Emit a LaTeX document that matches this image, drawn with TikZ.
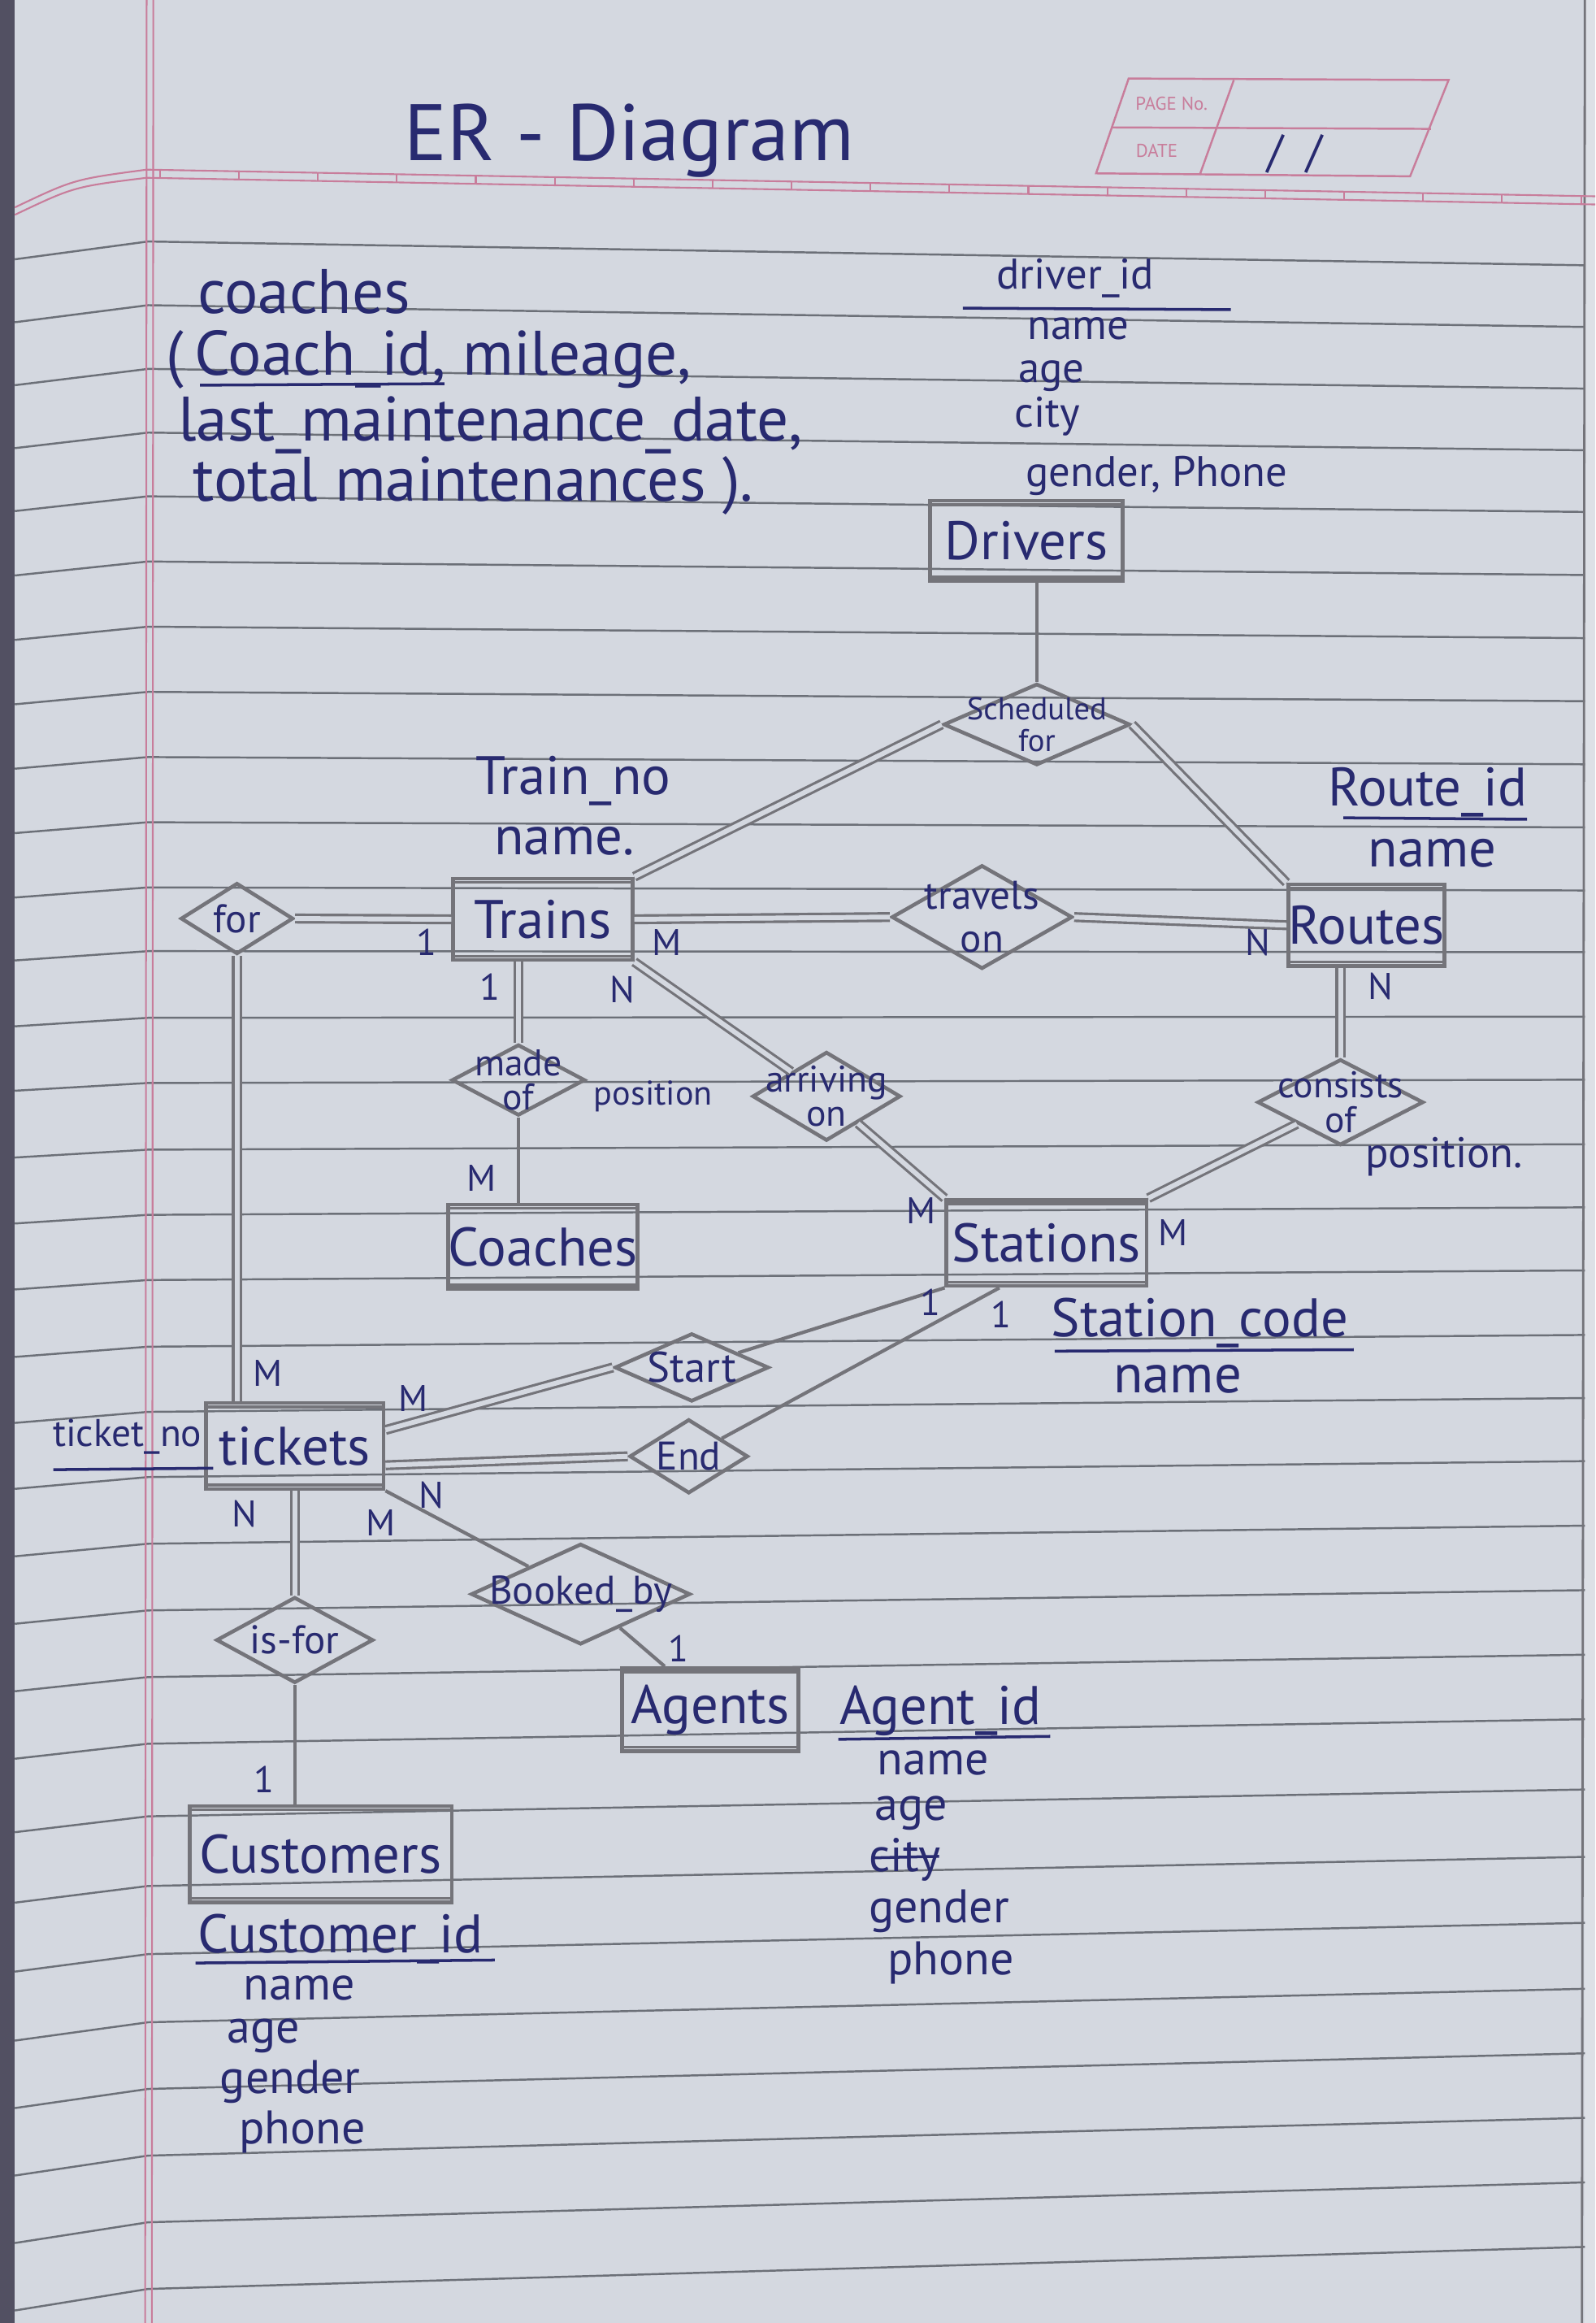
\documentclass[tikz,border=0pt]{standalone}
\usepackage{fontspec}
\setmainfont{PT Sans}
\usetikzlibrary{shapes.geometric}
\definecolor{paper}{RGB}{212,216,224}
\definecolor{pencil}{RGB}{116,116,122}
\definecolor{ink}{RGB}{40,42,112}
\definecolor{ruleline}{RGB}{108,112,120}
\definecolor{pinkline}{RGB}{200,125,155}
\definecolor{binding}{RGB}{82,80,98}
\def\U{0.018227cm}
\newcommand\entdbl[1]{\draw[pencil,line width=1pt] ([yshift=-2pt]#1.north west) -- ([yshift=-2pt]#1.north east) ([yshift=2pt]#1.south west) -- ([yshift=2pt]#1.south east);}
\begin{document}
\begin{tikzpicture}[x=0.018227cm,y=-0.018227cm,
  entity/.style={draw=pencil, line width=1.3pt, inner sep=0pt, text=ink, font=\fontsize{19}{21}\selectfont},
  rel/.style={diamond, draw=pencil, line width=1.3pt, inner sep=0pt},
  reltext/.style={text=ink, align=center, inner sep=0pt, font=\fontsize{13}{12}\selectfont},
  conn/.style={draw=pencil, line width=1.2pt},
  dconn/.style={draw=pencil, line width=0.9pt, double=paper, double distance=1.7pt},
  card/.style={text=ink, inner sep=0pt, font=\fontsize{13}{13}\selectfont},
  attr/.style={text=ink, inner sep=0pt, font=\fontsize{19}{20}\selectfont},
  lattr/.style={text=ink, inner sep=0pt, font=\fontsize{16.5}{17}\selectfont},
  sattr/.style={text=ink, inner sep=0pt, font=\fontsize{15}{16}\selectfont},
  cattr/.style={text=ink, inner sep=0pt, anchor=west, font=\fontsize{22}{24}\selectfont},
  uline/.style={draw=ink, line width=1pt},
  ruling/.style={draw=ruleline, line width=0.7pt}]
\useasboundingbox (0,0) rectangle (1077,1568);
\fill[paper] (0,0) rectangle (1077,1568);
\fill[paper!80!white] (1070,0) rectangle (1077,1568);
% ruled lines
\foreach \ya in {163,206,249,292,335,379,423,467,511,555,599,642,687,731,776,820,864,909,953,997,1042,1087,1132,1177,1226,1273,1319,1365,1410,1455,1500,1545} {
  \pgfmathsetmacro\yr{\ya+(15-(\ya-160)*0.02985)*1.0778}
  \pgfmathsetmacro\yl{\ya+5+0.012*abs(\ya-750)}
  \draw[ruling] (10,\yl) -- (100,\ya) -- (1070,\yr);
}
% binding and right edge
\fill[binding] (0,0) rectangle (10,1568);
\draw[pencil, line width=0.8pt] (1070,0) -- (1068,1568);
% pink margins
\draw[pinkline, line width=0.6pt] (99,0) -- (98,1568) (103.5,0) -- (102.5,1568);
\draw[pinkline, line width=0.6pt] (10,140) .. controls (50,121) .. (99,114.5) -- (1077,132.5);
\draw[pinkline, line width=0.6pt] (10,145) .. controls (50,126) .. (99,120) -- (1077,138);
\foreach \t in {0,...,18} {
  \pgfmathsetmacro\tx{108+53.3*\t}
  \pgfmathsetmacro\tya{114.5+(\tx-99)*0.0184}
  \pgfmathsetmacro\tyb{\tya+5.5}
  \draw[pinkline, line width=0.6pt] (\tx,\tya) -- (\tx,\tyb);
}
% page no box
\draw[pinkline, line width=0.7pt] (762,53) -- (978,54) -- (952,119) -- (740,117) -- cycle;
\draw[pinkline, line width=0.7pt] (751,86) -- (966,87) (833,54) -- (810,118);
\node[text=pinkline, inner sep=0pt, font=\fontsize{6.5}{7}\selectfont] (pageno) at (791,70) {PAGE No.};
\node[text=pinkline, inner sep=0pt, font=\fontsize{6.5}{7}\selectfont] (datet) at (781,102) {DATE};
\node[text=ink, inner sep=0pt, font=\fontsize{16}{16}\selectfont] (dslash) at (874,104) {/\hspace{8pt}/};
% title
\node[text=ink, inner sep=0pt, font=\fontsize{28}{30}\selectfont] (title) at (425,95) {ER - Diagram};
% coaches note
\node[cattr] (cnA) at (133,197) {coaches};
\node[cattr] (cnB) at (112,243) {(\,Coach\_id, mileage,};
\node[cattr] (cnC) at (120,287) {last\_maintenance\_date,};
\node[cattr] (cnD) at (130,328) {total maintenances ).};
\draw[uline] (135,260) -- (300,259);
% entities
\node[entity, minimum width=130*\U, minimum height=54*\U] (drivers) at (693,365) {Drivers};
\node[entity, minimum width=121*\U, minimum height=55*\U] (trains) at (366.5,620.5) {Trains};
\node[entity, minimum width=99*\U, minimum height=55*\U] (routes) at (922.5,624.5) {Routes};
\node[entity, minimum width=121*\U, minimum height=57*\U] (coaches) at (366.5,841.5) {Coaches};
\node[entity, minimum width=135*\U, minimum height=58*\U] (stations) at (706.5,839) {Stations};
\node[entity, minimum width=120*\U, minimum height=58*\U] (tickets) at (199,976) {tickets};
\node[entity, minimum width=119*\U, minimum height=56*\U] (agents) at (479.5,1154) {Agents};
\node[entity, minimum width=177*\U, minimum height=65*\U] (customers) at (216.5,1251.5) {Customers};
\entdbl{drivers}\entdbl{trains}\entdbl{routes}\entdbl{coaches}
\entdbl{stations}\entdbl{tickets}\entdbl{agents}\entdbl{customers}
% relationships
\node[rel, minimum width=126*\U, minimum height=55*\U] (sched) at (700,489) {};
\node[rel, minimum width=122*\U, minimum height=70*\U] (travels) at (663,619) {};
\node[rel, minimum width=76*\U, minimum height=48*\U] (forD) at (160,620) {};
\node[rel, minimum width=90*\U, minimum height=48*\U] (made) at (350,729) {};
\node[rel, minimum width=100*\U, minimum height=60*\U] (arriving) at (558,740) {};
\node[rel, minimum width=112*\U, minimum height=58*\U] (consists) at (905,744) {};
\node[rel, minimum width=104*\U, minimum height=46*\U] (start) at (467,923) {};
\node[rel, minimum width=80*\U, minimum height=50*\U] (endD) at (465,983) {};
\node[rel, minimum width=148*\U, minimum height=68*\U] (booked) at (392,1076) {};
\node[rel, minimum width=106*\U, minimum height=58*\U] (isfor) at (199,1107) {};
\node[reltext, font=\fontsize{11}{11}\selectfont] (schedT) at (sched) {Scheduled\\for};
\node[reltext, font=\fontsize{14}{15}\selectfont] (travelsT) at (travels) {travels\\on};
\node[reltext, font=\fontsize{14}{14}\selectfont] (forT) at (forD) {for};
\node[reltext] (madeT) at (made) {made\\of};
\node[reltext] (arrivingT) at (arriving) {arriving\\on};
\node[reltext] (consistsT) at (consists) {consists\\of};
\node[reltext, font=\fontsize{15}{15}\selectfont] (startT) at (start) {Start};
\node[reltext, font=\fontsize{14}{14}\selectfont] (endT) at (endD) {End};
\node[reltext, font=\fontsize{14}{14}\selectfont] (bookedT) at (booked) {Booked\_by};
\node[reltext, font=\fontsize{14}{14}\selectfont] (isforT) at (isfor) {is-for};
% connectors
\draw[conn] (sched.north) -- (sched.north |- drivers.south);
\draw[dconn] (sched.west) -- (trains.north east);
\draw[dconn] (sched.east) -- (routes.north west);
\draw[dconn] (trains.east) -- (travels.west);
\draw[dconn] (travels.east) -- (routes.west);
\draw[dconn] (forD.east) -- (trains.west);
\draw[dconn] (forD.south) -- (forD.south |- tickets.north);
\draw[dconn] (made.north) -- (made.north |- trains.south);
\draw[conn] (made.south) -- (made.south |- coaches.north);
\draw[dconn] (trains.south east) -- (arriving);
\draw[dconn] (arriving) -- (stations.north west);
\draw[dconn] (consists.north) -- (consists.north |- routes.south);
\draw[dconn] (consists) -- (stations.north east);
\draw[conn] (stations.south west) -- (start);
\draw[dconn] (start.west) -- (tickets.10);
\draw[conn] ([xshift=37*\U]stations.south west) -- (endD);
\draw[dconn] (endD.west) -- (tickets.-12);
\draw[dconn] (isfor.north) -- (isfor.north |- tickets.south);
\draw[conn] (isfor.south) -- (isfor.south |- customers.north);
\draw[conn] (tickets.south east) -- (booked);
\draw[conn] (booked) -- ([xshift=30*\U]agents.north west);
% cardinalities
\node[card] (k1) at (288,636) {1};
\node[card] (k2) at (450,636) {M};
\node[card] (k3) at (849,636) {N};
\node[card] (k4) at (331,666) {1};
\node[card] (k5) at (420,668) {N};
\node[card] (k6) at (932,666) {N};
\node[card] (k7) at (325,795) {M};
\node[card] (k8) at (622,817) {M};
\node[card] (k9) at (792,832) {M};
\node[card] (k10) at (628,879) {1};
\node[card] (k11) at (676,887) {1};
\node[card] (k12) at (181,927) {M};
\node[card] (k13) at (279,944) {M};
\node[card] (k14) at (165,1022) {N};
\node[card] (k15) at (257,1028) {M};
\node[card] (k16) at (291,1009) {N};
\node[card] (k17) at (458,1113) {1};
\node[card] (k18) at (178,1201) {1};
% position labels
\node[reltext, font=\fontsize{12}{12}\selectfont] (posA) at (441,740) {position};
\node[reltext, font=\fontsize{15}{15}\selectfont] (posB) at (975,781) {position.};
% driver attributes
\node[sattr] (dA) at (726,188) {driver\_id};
\draw[uline] (650,208) -- (831,209);
\node[sattr] (dB) at (728,222) {name};
\node[sattr] (dC) at (710,254) {age};
\node[sattr] (dD) at (707,281) {city};
\node[sattr] (dE) at (781,321) {gender, Phone};
% train attributes
\node[attr] (tA) at (387,527) {Train\_no};
\node[attr] (tB) at (381,568) {name.};
% route attributes
\node[attr] (rA) at (964,535) {Route\_id};
\draw[uline] (907,552) -- (1031,553);
\node[attr] (rB) at (967,576) {name};
% station attributes
\node[attr] (sA) at (810,893) {Station\_code};
\draw[uline] (712,912) -- (914,911);
\node[attr] (sB) at (795,931) {name};
% ticket attribute
\node[attr, font=\fontsize{13.5}{14}\selectfont] (tkA) at (86,970) {ticket\_no};
\draw[uline] (36,992) -- (144,991);
% agent attributes
\node[attr] (aA) at (635,1155) {Agent\_id};
\draw[uline] (566,1174) -- (709,1172);
\node[lattr] (aB) at (630,1190) {name};
\node[lattr] (aC) at (615,1224) {age};
\node[lattr] (aD) at (611,1255) {city};
\draw[uline] (590,1254) -- (634,1253);
\node[lattr] (aE) at (634,1290) {gender};
\node[lattr] (aF) at (642,1325) {phone};
% customer attributes
\node[attr] (cuA) at (230,1309) {Customer\_id};
\draw[uline] (132,1325) -- (334,1323);
\node[lattr] (cuB) at (202,1342) {name};
\node[lattr] (cuC) at (178,1374) {age};
\node[lattr] (cuD) at (196,1405) {gender};
\node[lattr] (cuE) at (204,1439) {phone};
\end{tikzpicture}
\end{document}
